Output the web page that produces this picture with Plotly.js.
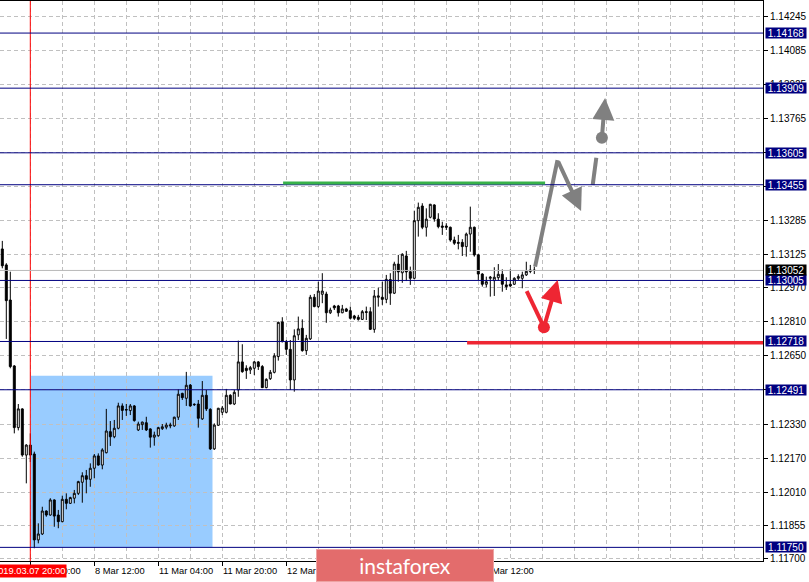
<!DOCTYPE html>
<html><head><meta charset="utf-8">
<script src="https://cdn.plot.ly/plotly-3.0.1.min.js"></script>
<style>html,body{margin:0;padding:0;background:#fff;} #chart{width:809px;height:582px;}</style>
</head><body><div id="chart"></div>
<script>
// ---- EURUSD H1 candles (bar index 0..133) ----
const openP = [1.13153,1.13078,1.12913,1.12603,1.12313,1.12401,1.12184,1.12231,1.12189,1.11785,
1.11813,1.11921,1.11902,1.11973,1.11902,1.11871,1.11976,1.11957,1.11981,1.12004,
1.12056,1.12087,1.12070,1.12122,1.12180,1.12137,1.12195,1.12294,1.12270,1.12310,
1.12415,1.12398,1.12393,1.12415,1.12302,1.12327,1.12336,1.12307,1.12268,1.12275,
1.12308,1.12315,1.12321,1.12321,1.12362,1.12474,1.12451,1.12513,1.12423,1.12424,
1.12354,1.12465,1.12399,1.12213,1.12324,1.12385,1.12385,1.12465,1.12424,1.12490,
1.12622,1.12592,1.12584,1.12592,1.12622,1.12600,1.12501,1.12543,1.12573,1.12647,
1.12810,1.12717,1.12681,1.12537,1.12749,1.12780,1.12675,1.12730,1.12926,1.12882,
1.12940,1.12941,1.12853,1.12885,1.12885,1.12853,1.12871,1.12863,1.12838,1.12832,
1.12822,1.12858,1.12858,1.12775,1.12926,1.12926,1.12916,1.13009,1.12945,1.13082,
1.13041,1.13120,1.13046,1.13015,1.13286,1.13355,1.13255,1.13302,1.13360,1.13293,
1.13261,1.13261,1.13255,1.13195,1.13184,1.13184,1.13164,1.13223,1.13255,1.13125,
1.13035,1.12987,1.13015,1.13004,1.13018,1.13034,1.12984,1.12987,1.12987,1.13015,
1.13015,1.13031,1.13054,1.13054];
const highP = [1.13191,1.13086,1.13046,1.12607,1.12424,1.12404,1.12235,1.12286,1.12200,1.11863,
1.11941,1.11924,1.11981,1.11976,1.11926,1.11993,1.12004,1.11988,1.12020,1.12063,
1.12103,1.12114,1.12145,1.12189,1.12192,1.12216,1.12401,1.12344,1.12349,1.12430,
1.12427,1.12424,1.12424,1.12419,1.12341,1.12341,1.12364,1.12310,1.12294,1.12317,
1.12330,1.12336,1.12336,1.12364,1.12493,1.12477,1.12575,1.12518,1.12427,1.12443,
1.12532,1.12490,1.12404,1.12333,1.12406,1.12415,1.12495,1.12470,1.12490,1.12722,
1.12705,1.12606,1.12603,1.12626,1.12626,1.12607,1.12545,1.12584,1.12663,1.12811,
1.12832,1.12725,1.12725,1.12775,1.12835,1.12822,1.12749,1.12937,1.12941,1.12999,
1.13039,1.12952,1.12877,1.12890,1.12890,1.12890,1.12876,1.12882,1.12843,1.12843,
1.12866,1.12882,1.12879,1.12960,1.12971,1.12999,1.13031,1.13039,1.13093,1.13125,
1.13133,1.13144,1.13070,1.13333,1.13371,1.13368,1.13344,1.13365,1.13363,1.13321,
1.13281,1.13274,1.13258,1.13211,1.13219,1.13199,1.13230,1.13352,1.13258,1.13129,
1.13039,1.13023,1.13026,1.13067,1.13082,1.13057,1.13020,1.13057,1.13020,1.13034,
1.13046,1.13093,1.13078,1.13070];
const lowP = [1.13062,1.12730,1.12592,1.12286,1.12300,1.12176,1.12051,1.12151,1.11746,1.11769,
1.11808,1.11894,1.11899,1.11847,1.11840,1.11868,1.11929,1.11954,1.11957,1.11996,
1.11960,1.12004,1.12035,1.12075,1.12134,1.12117,1.12192,1.12227,1.12263,1.12305,
1.12349,1.12368,1.12372,1.12341,1.12297,1.12302,1.12297,1.12219,1.12228,1.12270,
1.12302,1.12305,1.12310,1.12317,1.12349,1.12443,1.12415,1.12411,1.12415,1.12313,
1.12349,1.12391,1.12208,1.12208,1.12321,1.12372,1.12380,1.12423,1.12419,1.12458,
1.12571,1.12542,1.12565,1.12560,1.12584,1.12499,1.12498,1.12537,1.12568,1.12628,
1.12714,1.12655,1.12490,1.12482,1.12725,1.12670,1.12655,1.12725,1.12879,1.12874,
1.12898,1.12806,1.12847,1.12866,1.12835,1.12851,1.12857,1.12822,1.12819,1.12816,
1.12819,1.12819,1.12772,1.12759,1.12882,1.12890,1.12898,1.12890,1.12941,1.12999,
1.12994,1.13002,1.12984,1.13010,1.13211,1.13246,1.13211,1.13297,1.13281,1.13250,
1.13219,1.13242,1.13187,1.13172,1.13151,1.13120,1.13117,1.13140,1.13117,1.13007,
1.12976,1.12973,1.12929,1.12932,1.13004,1.12952,1.12960,1.12973,1.12984,1.13007,
1.12968,1.13026,1.13039,1.13035];
const closeP = [1.13074,1.12910,1.12600,1.12313,1.12401,1.12184,1.12231,1.12184,1.11785,1.11813,
1.11921,1.11902,1.11973,1.11897,1.11871,1.11976,1.11957,1.11984,1.12004,1.12059,
1.12087,1.12070,1.12122,1.12180,1.12137,1.12208,1.12297,1.12270,1.12310,1.12415,
1.12394,1.12396,1.12415,1.12346,1.12330,1.12339,1.12302,1.12268,1.12278,1.12313,
1.12317,1.12325,1.12325,1.12362,1.12470,1.12454,1.12512,1.12415,1.12421,1.12357,
1.12465,1.12401,1.12213,1.12325,1.12404,1.12405,1.12465,1.12424,1.12479,1.12622,
1.12576,1.12581,1.12595,1.12622,1.12600,1.12501,1.12540,1.12573,1.12650,1.12808,
1.12717,1.12681,1.12537,1.12745,1.12777,1.12675,1.12733,1.12926,1.12882,1.12955,
1.12955,1.12853,1.12866,1.12876,1.12853,1.12871,1.12860,1.12827,1.12827,1.12822,
1.12858,1.12855,1.12775,1.12932,1.12932,1.12916,1.13010,1.12945,1.13082,1.13045,
1.13128,1.13045,1.13015,1.13286,1.13349,1.13255,1.13293,1.13363,1.13294,1.13258,
1.13255,1.13255,1.13195,1.13180,1.13180,1.13164,1.13223,1.13255,1.13125,1.13035,
1.12987,1.12999,1.13020,1.13020,1.13034,1.12987,1.12976,1.12979,1.13015,1.13023,
1.13031,1.13048,1.13048,1.13052];

// ---- axis labels ----
const timeLabelBars = [7, 23, 39, 55, 71, 87, 103, 119];
const timeLabels = ["7 Mar 20:00","8 Mar 12:00","11 Mar 04:00","11 Mar 20:00","12 Mar 12:00","13 Mar 04:00","13 Mar 20:00","14 Mar 12:00"];
const priceTicks = [1.11700,1.11855,1.12010,1.12170,1.12330,1.12490,1.12650,1.12810,1.12970,1.13125,1.13285,1.13445,1.13605,1.13765,1.13925,1.14085,1.14245];
const priceTickText = ["1.11700","1.11855","1.12010","1.12170","1.12330","1.12490","1.12650","1.12810","1.12970","1.13125","1.13285","1.13445","1.13605","1.13765","1.13925","1.14085","1.14245"];

// ---- horizontal levels ----
const levelPrices = [1.14168, 1.13909, 1.13605, 1.13455, 1.13005, 1.12718, 1.12491, 1.11750];
const currentPrice = 1.13052;
const markerBar = 7; const markerLabel = "2019.03.07 20:00";

// ---- drawn objects ----
const zoneBars = [7, 52.55]; const zonePrices = [1.11750, 1.12557];
const greenBars = [70.2, 135.7]; const greenPrice = 1.13463;
const redLineBar = 116.2; const redLinePrice = 1.12712;
const grayUpX = [133.2, 138.8]; const grayUpY = [1.13070, 1.13571];
const grayDownTip = [144.7, 1.13332];
const grayUp2X = [147.6, 148.5]; const grayUp2Y = [1.13454, 1.13582];
const grayDot = [149.9, 1.13676]; const grayTip2 = [150.7, 1.13863];
const redDownX = [131.1, 135.4]; const redDownY = [1.12955, 1.12785];
const redTip = [138.85, 1.13007];

const bars = openP.map((_, i) => i);
const NAVY = '#000080', GRAY = '#808080', RED = '#ee2633', GREEN = '#38b24a';
const FONT = 'Liberation Sans, Arial, sans-serif';
const X_END = 190.175;

const traces = [
  {type:'candlestick', x:bars, open:openP, high:highP, low:lowP, close:closeP,
   increasing:{line:{color:'#000', width:1}, fillcolor:'#ffffff'},
   decreasing:{line:{color:'#000', width:1}, fillcolor:'#000000'},
   whiskerwidth:0, hoverinfo:'skip', showlegend:false},
  {type:'scatter', mode:'lines', x:grayUpX, y:grayUpY, line:{color:GRAY, width:4}, hoverinfo:'skip', showlegend:false},
  {type:'scatter', mode:'lines', x:grayUp2X, y:grayUp2Y, line:{color:GRAY, width:4}, hoverinfo:'skip', showlegend:false},
  {type:'scatter', mode:'markers', x:[grayDot[0]], y:[grayDot[1]], marker:{color:GRAY, size:12}, hoverinfo:'skip', showlegend:false},
  {type:'scatter', mode:'lines', x:redDownX, y:redDownY, line:{color:RED, width:4}, hoverinfo:'skip', showlegend:false},
  {type:'scatter', mode:'markers', x:[redDownX[1]], y:[redDownY[1]], marker:{color:RED, size:12}, hoverinfo:'skip', showlegend:false}
];

const shapes = [];
shapes.push({type:'rect', xref:'x', yref:'y', x0:zoneBars[0], x1:zoneBars[1], y0:zonePrices[0], y1:zonePrices[1],
  fillcolor:'#99ccff', line:{width:0}, layer:'below'});
shapes.push({type:'line', xref:'x', yref:'paper', x0:markerBar, x1:markerBar, y0:0, y1:1, line:{color:'#ff0000', width:1}, layer:'above'});
shapes.push({type:'line', xref:'paper', yref:'y', x0:0, x1:1, y0:currentPrice, y1:currentPrice, line:{color:'#b8b8b8', width:1}, layer:'above'});
levelPrices.forEach(p => shapes.push({type:'line', xref:'paper', yref:'y', x0:0, x1:1, y0:p, y1:p, line:{color:NAVY, width:1}, layer:'above'}));
shapes.push({type:'line', xref:'x', yref:'y', x0:greenBars[0], x1:greenBars[1], y0:greenPrice, y1:greenPrice, line:{color:GREEN, width:3}, layer:'above'});
shapes.push({type:'line', xref:'x', yref:'y', x0:redLineBar, x1:X_END, y0:redLinePrice, y1:redLinePrice, line:{color:RED, width:3.5}, layer:'above'});

const annotations = [];
// time labels, left aligned at the tick
timeLabelBars.forEach((b, i) => annotations.push({xref:'x', yref:'paper', x:b, y:-0.0179, xanchor:'left', yanchor:'middle',
  text:timeLabels[i], showarrow:false, font:{family:FONT, size:9.3, color:'#000'}, xshift:-1}));
// red marker label
annotations.push({xref:'paper', yref:'paper', x:67/763, y:-0.0179, xanchor:'right', yanchor:'middle', text:markerLabel,
  showarrow:false, bgcolor:'#ff0000', font:{family:FONT, size:9.3, color:'#fff'}, borderpad:1});
// price boxes
levelPrices.concat([currentPrice]).forEach(p => annotations.push({xref:'paper', yref:'y', x:1, y:p, xanchor:'left', yanchor:'middle',
  xshift:2, text:p.toFixed(5), showarrow:false, bgcolor: p === currentPrice ? '#000000' : NAVY, width:40, height:10, borderpad:0,
  font:{family:FONT, size:10, color:'#fff'}}));
// arrows
annotations.push({xref:'x', yref:'y', axref:'x', ayref:'y', x:grayDownTip[0], y:grayDownTip[1], ax:grayUpX[1], ay:grayUpY[1],
  text:'', showarrow:true, arrowhead:2, arrowsize:1.1, arrowwidth:4, arrowcolor:GRAY, standoff:0});
annotations.push({xref:'x', yref:'y', axref:'x', ayref:'y', x:grayTip2[0], y:grayTip2[1], ax:grayDot[0], ay:grayDot[1],
  text:'', showarrow:true, arrowhead:2, arrowsize:1.1, arrowwidth:4, arrowcolor:GRAY, standoff:0});
annotations.push({xref:'x', yref:'y', axref:'x', ayref:'y', x:redTip[0], y:redTip[1], ax:redDownX[1], ay:redDownY[1],
  text:'', showarrow:true, arrowhead:2, arrowsize:1.1, arrowwidth:4, arrowcolor:RED, standoff:0});
// watermark
annotations.push({xref:'paper', yref:'paper', x:405/763, y:-0.0089, xanchor:'center', yanchor:'middle', text:'instaforex',
  showarrow:false, bgcolor:'#e36c6c', bordercolor:'#eda3a3', borderwidth:1, width:176, height:31, borderpad:0,
  font:{family:'Lato, Open Sans, sans-serif', size:21, color:'#ffffff'}});

const layout = {
  width:809, height:582, margin:{l:0, r:46, t:1, b:21, pad:0},
  paper_bgcolor:'#ffffff', plot_bgcolor:'#ffffff', showlegend:false,
  xaxis:{type:'linear', range:[-0.575, X_END], rangeslider:{visible:false}, fixedrange:true,
    tickmode:'array', tickvals:timeLabelBars, ticktext:timeLabelBars.map(() => ''), showticklabels:false,
    ticks:'outside', ticklen:4, tickcolor:'#000', showgrid:true, gridcolor:'#c0c0c0', griddash:'4px,3px', gridwidth:1,
    minor:{tickmode:'linear', tick0:7, dtick:8, showgrid:true, gridcolor:'#c0c0c0', griddash:'4px,3px', gridwidth:1, ticks:''},
    showline:true, linecolor:'#000', linewidth:1, mirror:true, zeroline:false},
  yaxis:{side:'right', range:[1.116859, 1.143188], fixedrange:true, tickmode:'array', tickvals:priceTicks, ticktext:priceTickText,
    ticks:'outside', ticklen:4, tickcolor:'#000', tickfont:{family:FONT, size:10, color:'#000'},
    showgrid:true, gridcolor:'#c0c0c0', griddash:'4px,3px', gridwidth:1, showline:true, linecolor:'#000', linewidth:1, zeroline:false},
  shapes:shapes, annotations:annotations
};
Plotly.newPlot('chart', traces, layout, {staticPlot:true, displayModeBar:false});
</script></body></html>
